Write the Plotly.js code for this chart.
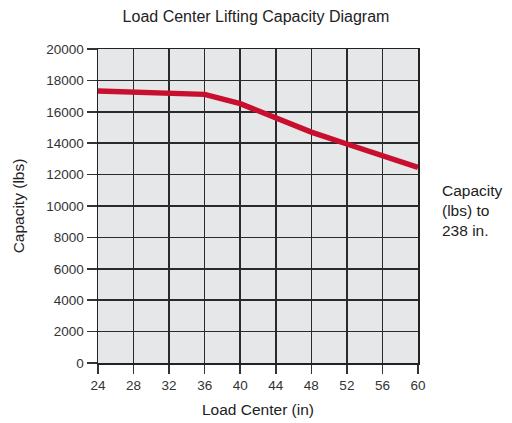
<!DOCTYPE html>
<html>
<head>
<meta charset="utf-8">
<script src="https://cdn.plot.ly/plotly-3.0.1.min.js"></script>
<style>html,body{margin:0;padding:0;background:#fff;}#chart{width:512px;height:423px;}</style>
</head>
<body>
<div id="chart"></div>
<script>
var loadCenter = [24, 28, 32, 36, 40, 44, 48, 52, 56, 60];
var capacity = [17320, 17270, 17200, 17110, 16520, 15650, 14710, 13950, 13200, 12460];
var xTicks = [24, 28, 32, 36, 40, 44, 48, 52, 56, 60];
var yTicks = [0, 2000, 4000, 6000, 8000, 10000, 12000, 14000, 16000, 18000, 20000];

var font = 'Liberation Sans, Arial, Helvetica, sans-serif';
var trace = {
  x: loadCenter, y: capacity, type: 'scatter', mode: 'lines',
  line: {color: '#c8102e', width: 5.5}, hoverinfo: 'skip'
};
var layout = {
  width: 512, height: 423,
  margin: {l: 97.5, r: 94, t: 49, b: 60},
  paper_bgcolor: '#ffffff', plot_bgcolor: '#e6e7e9',
  showlegend: false,
  font: {family: font, size: 13.5, color: '#333'},
  title: {text: 'Load Center Lifting Capacity Diagram', font: {family: font, size: 16, color: '#222'}, x: 0.5, xanchor: 'center', y: 0.962, yanchor: 'middle'},
  xaxis: {
    range: [24, 60], tickvals: xTicks, ticktext: xTicks.map(String),
    showgrid: true, gridcolor: '#2a2a2a', gridwidth: 1.5,
    showline: true, linecolor: '#222', linewidth: 1.5, mirror: true,
    ticks: 'outside', ticklen: 9, tickcolor: '#333', tickwidth: 1.5,
    zeroline: false,
    tickfont: {family: font, size: 13.5, color: '#333'},
    title: {text: 'Load Center (in)', font: {family: font, size: 15.5, color: '#222'}, standoff: 12}
  },
  yaxis: {
    range: [0, 20000], tickvals: yTicks, ticktext: yTicks.map(String),
    showgrid: true, gridcolor: '#2a2a2a', gridwidth: 1.5,
    showline: true, linecolor: '#222', linewidth: 1.5, mirror: true,
    ticks: 'outside', ticklen: 10, tickcolor: '#333', tickwidth: 1.5,
    zeroline: false,
    tickfont: {family: font, size: 13.5, color: '#333'},
    title: {text: 'Capacity (lbs)', font: {family: font, size: 15.5, color: '#222'}, standoff: 18}
  },
  annotations: [{
    text: 'Capacity<br>(lbs) to<br>238 in.', xref: 'paper', yref: 'paper',
    x: 1.07, y: 0.485, xanchor: 'left', yanchor: 'middle', align: 'left',
    showarrow: false, font: {family: font, size: 15.5, color: '#222'}
  }]
};
Plotly.newPlot('chart', [trace], layout, {staticPlot: true, displayModeBar: false});
</script>
</body>
</html>
